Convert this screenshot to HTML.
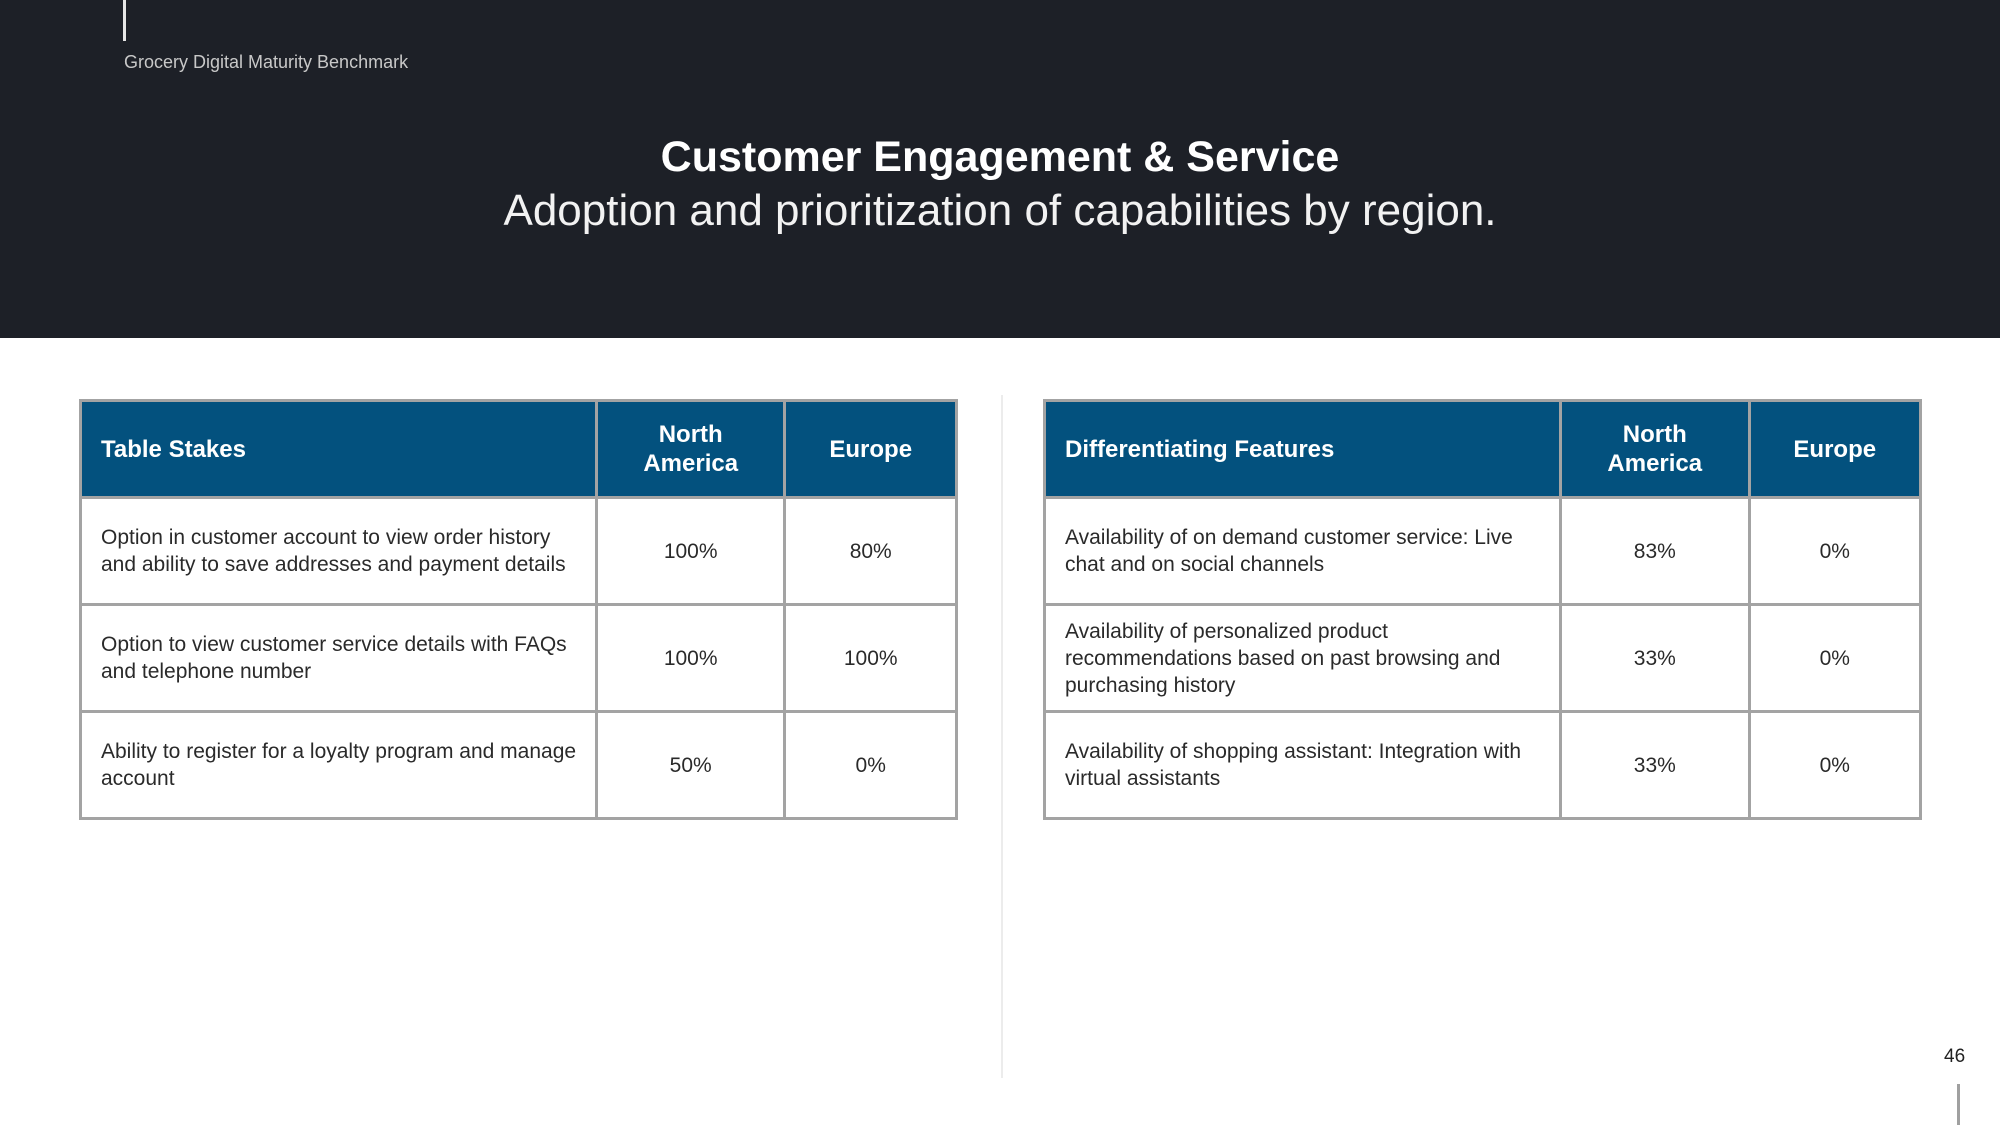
<!DOCTYPE html>
<html><head><meta charset="utf-8"><style>
*{margin:0;padding:0;box-sizing:border-box}
body{width:2000px;height:1125px;position:relative;background:#fff;font-family:"Liberation Sans",sans-serif;overflow:hidden}
.hdr{position:absolute;left:0;top:0;width:2000px;height:338px;background:#1d2027}
.vl{position:absolute;left:123px;top:0;width:3px;height:41px;background:#e6e6e6}
.brand{position:absolute;left:124px;top:52px;font-size:18px;color:#c8c8c8}
.title{position:absolute;left:0;width:2000px;top:133px;text-align:center;font-size:43px;font-weight:bold;color:#fff}
.sub{position:absolute;left:0;width:2000px;top:186px;text-align:center;font-size:44px;color:#f2f2f2}
table{position:absolute;border-collapse:collapse;top:399px;height:417px}
td,th{border:3px solid #a3a3a3;font-size:21px;line-height:27px;color:#2a2a2a;font-weight:normal}
th{background:#03517e;color:#fff;font-size:24px;line-height:29px;height:97px;font-weight:bold}
th.l{text-align:left;padding-left:19px}
td{height:107px;text-align:center}
td.l{text-align:left;padding-left:19px;padding-right:10px}
.div{position:absolute;left:1001px;top:395px;width:2px;height:683px;background:#ececec}
.pn{position:absolute;left:1944px;top:1046px;font-size:19px;color:#222}
.pl{position:absolute;left:1957px;top:1084px;width:3px;height:41px;background:#a0a0a0}
</style></head><body>
<div class="hdr"></div>
<div class="vl"></div>
<div class="brand">Grocery Digital Maturity Benchmark</div>
<div class="title">Customer Engagement &amp; Service</div>
<div class="sub">Adoption and prioritization of capabilities by region.</div>

<table style="left:79px;width:879px">
<colgroup><col style="width:518px"><col style="width:189px"><col style="width:172px"></colgroup>
<tr><th class="l">Table Stakes</th><th>North<br>America</th><th>Europe</th></tr>
<tr><td class="l">Option in customer account to view order history and ability to save addresses and payment details</td><td>100%</td><td>80%</td></tr>
<tr><td class="l">Option to view customer service details with FAQs and telephone number</td><td>100%</td><td>100%</td></tr>
<tr><td class="l">Ability to register for a loyalty program and manage account</td><td>50%</td><td>0%</td></tr>
</table>

<div class="div"></div>

<table style="left:1043px;width:879px">
<colgroup><col style="width:518px"><col style="width:189px"><col style="width:172px"></colgroup>
<tr><th class="l">Differentiating Features</th><th>North<br>America</th><th>Europe</th></tr>
<tr><td class="l">Availability of on demand customer service: Live chat and on social channels</td><td>83%</td><td>0%</td></tr>
<tr><td class="l">Availability of personalized product recommendations based on past browsing and purchasing history</td><td>33%</td><td>0%</td></tr>
<tr><td class="l">Availability of shopping assistant: Integration with virtual assistants</td><td>33%</td><td>0%</td></tr>
</table>

<div class="pn">46</div>
<div class="pl"></div>
</body></html>
